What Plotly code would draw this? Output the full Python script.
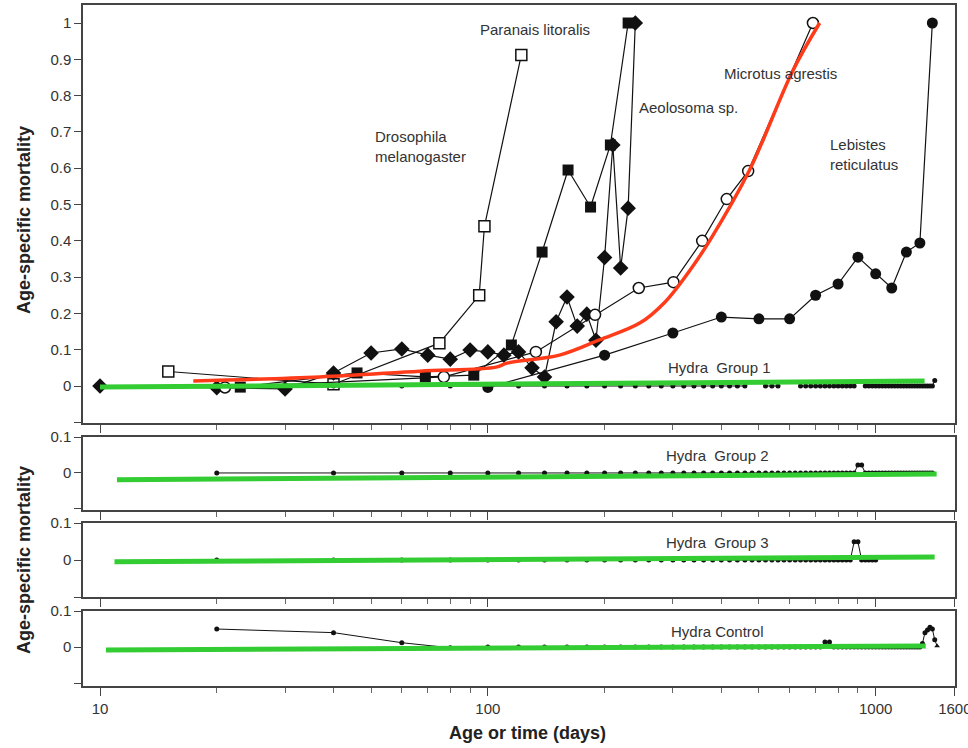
import math
import plotly.graph_objects as go

# ---------------- data ----------------
drosophila_x = [15, 40, 75, 95, 98, 122]
drosophila_y = [0.04, 0.005, 0.118, 0.25, 0.44, 0.912]

paranais_x = [23, 46, 69, 92, 115, 138, 161, 184, 207, 230]
paranais_y = [-0.003, 0.036, 0.025, 0.03, 0.113, 0.369, 0.595, 0.493, 0.664, 1.0]

aeolosoma_x = [10, 20, 30, 40, 50, 60, 70, 80, 90, 100, 110, 120, 130, 140,
               150, 160, 170, 180, 190, 200, 210, 220, 230, 240]
aeolosoma_y = [0.0, -0.005, -0.008, 0.036, 0.091, 0.102, 0.085, 0.074, 0.099, 0.094,
               0.085, 0.094, 0.05, 0.025, 0.177, 0.245, 0.165, 0.198, 0.126, 0.354,
               0.664, 0.325, 0.49, 1.0]

microtus_x = [21, 77, 133, 189, 245, 301, 357, 413, 469, 689]
microtus_y = [-0.004, 0.025, 0.094, 0.196, 0.27, 0.286, 0.4, 0.515, 0.592, 1.0]

lebistes_x = [100, 200, 300, 400, 500, 600, 700, 800, 900, 1000, 1100, 1200, 1300, 1400]
lebistes_y = [-0.004, 0.085, 0.146, 0.19, 0.185, 0.185, 0.25, 0.281, 0.355, 0.309,
              0.27, 0.369, 0.394, 1.0]

red_fit_x = [17.4, 36.9, 66.8, 105, 112, 153, 194, 247, 286, 332, 374, 473, 611, 717]
red_fit_y = [0.014, 0.025, 0.041, 0.052, 0.063, 0.085, 0.127, 0.174, 0.231, 0.319, 0.402,
             0.595, 0.868, 1.0]

hydra_days = [20, 40, 60, 80, 100, 120, 140, 160, 180, 200,
              220, 240, 260, 280, 300, 320, 340, 360, 380, 400,
              420, 440, 460, 480, 500, 520, 540, 560, 580, 600,
              620, 640, 660, 680, 700, 720, 740, 760, 780, 800,
              820, 840, 860, 880, 900, 920, 940, 960, 980, 1000,
              1020, 1040, 1060, 1080, 1100, 1120, 1140, 1160, 1180, 1200,
              1220, 1240, 1260, 1280, 1300, 1320, 1340, 1360, 1380, 1400,
              1420, 1440, 1460]
N = None
hydra_g1 = [0, 0, 0, 0, 0, 0, 0, 0, 0, 0,
            0, 0, 0, 0, 0, 0, 0, 0, 0, 0,
            0, 0, 0, N, N, 0, 0, 0, N, N,
            N, 0, 0, 0, 0, 0, 0, 0, 0, 0,
            0, 0, 0, 0, N, N, 0, 0, 0, 0,
            0, 0, 0, 0, 0, 0, 0, 0, 0, 0,
            0, 0, 0, 0, 0, 0, 0, 0, 0, 0,
            0.015, N, N]
hydra_g2 = [0, 0, 0, 0, 0, 0, 0, 0, 0, 0,
            0, 0, 0, 0, 0, 0, 0, 0, 0, 0,
            0, 0, 0, 0, 0, 0, 0, 0, 0, 0,
            0, 0, 0, 0, 0, 0, 0, 0, 0, 0,
            0, 0, 0, 0, 0.022, 0.022, 0, 0, 0, 0,
            0, 0, 0, 0, 0, 0, 0, 0, 0, 0,
            0, 0, 0, 0, 0, 0, 0, 0, 0, 0,
            N, N, N]
hydra_g3 = [0, 0, 0, 0, 0, 0, 0, 0, 0, 0,
            0, 0, 0, 0, 0, 0, 0, 0, 0, 0,
            0, 0, 0, 0, 0, 0, 0, 0, 0, 0,
            0, 0, 0, 0, 0, 0, 0, 0, 0, 0,
            0, 0, 0, 0.049, 0.049, 0, 0, 0, 0, 0,
            N, N, N, N, N, N, N, N, N, N,
            N, N, N, N, N, N, N, N, N, N,
            N, N, N]
hydra_ctrl = [0.05, 0.04, 0.012, -0.002, 0, 0, 0, 0, 0, 0,
              0, 0, 0, 0, 0, 0, 0, 0, 0, 0,
              0, 0, 0, 0, 0, 0, 0, 0, 0, 0,
              0, 0, 0, 0, 0, 0, 0.014, 0.014, 0, 0,
              0, 0, 0, 0, 0, 0, 0, 0, 0, 0,
              0, 0, 0, 0, 0, 0, 0, 0, 0, 0,
              0, 0, 0, 0, 0, 0.01, 0.04, 0.047, 0.055, 0.05,
              0.02, 0.003, N]

green_fit_x = [[10, 1337], [11.06, 1436], [10.9, 1419], [10.36, 1346]]
green_fit_y = [[-0.003, 0.014], [-0.019, -0.003], [-0.005, 0.008], [-0.008, 0.003]]

x_major = [10, 100, 1000, 1600]
x_minor = [20, 30, 40, 50, 60, 70, 80, 90, 200, 300, 400, 500, 600, 700, 800, 900]
top_ticks = [-0.1, 0, 0.1, 0.2, 0.3, 0.4, 0.5, 0.6, 0.7, 0.8, 0.9, 1.0]
top_ticktext = ["", "0", "0.1", "0.2", "0.3", "0.4", "0.5", "0.6", "0.7", "0.8", "0.9", "1"]
low_ticks = [-0.1, 0, 0.1]
low_ticktext = ["", "0", "0.1"]

# ---------------- figure ----------------
W, H = 968, 748
ML, MR, MT, MB = 83, 13, 5, 62
PW, PH = W - ML - MR, H - MT - MB


def px(xpix):
    return (xpix - ML) / PW


def py(ypix):
    return (H - MB - ypix) / PH


fig = go.Figure()
BLACK = "#111111"
LW = 1.2

fig.add_trace(go.Scatter(x=drosophila_x, y=drosophila_y, mode="lines+markers",
                         line=dict(color=BLACK, width=LW),
                         marker=dict(symbol="square", size=11, color="white",
                                     line=dict(color=BLACK, width=1.5)),
                         xaxis="x", yaxis="y", showlegend=False))
fig.add_trace(go.Scatter(x=paranais_x, y=paranais_y, mode="lines+markers",
                         line=dict(color=BLACK, width=LW),
                         marker=dict(symbol="square", size=11, color=BLACK),
                         xaxis="x", yaxis="y", showlegend=False))
fig.add_trace(go.Scatter(x=aeolosoma_x, y=aeolosoma_y, mode="lines+markers",
                         line=dict(color=BLACK, width=LW),
                         marker=dict(symbol="diamond", size=12, color=BLACK),
                         xaxis="x", yaxis="y", showlegend=False))
fig.add_trace(go.Scatter(x=lebistes_x, y=lebistes_y, mode="lines+markers",
                         line=dict(color=BLACK, width=LW),
                         marker=dict(symbol="circle", size=11, color=BLACK),
                         xaxis="x", yaxis="y", showlegend=False))
fig.add_trace(go.Scatter(x=microtus_x, y=microtus_y, mode="lines+markers",
                         line=dict(color=BLACK, width=LW),
                         marker=dict(symbol="circle", size=11, color="white",
                                     line=dict(color=BLACK, width=1.5)),
                         xaxis="x", yaxis="y", showlegend=False))

hydra_sets = [hydra_g1, hydra_g2, hydra_g3, hydra_ctrl]
axes = [("x", "y"), ("x2", "y2"), ("x3", "y3"), ("x4", "y4")]
for k, (ys, (xa, ya)) in enumerate(zip(hydra_sets, axes)):
    symbols = ["triangle-up" if (k == 3 and i == 71) else "circle" for i in range(len(ys))]
    fig.add_trace(go.Scatter(x=hydra_days, y=ys, mode="lines+markers",
                             line=dict(color=BLACK, width=1),
                             marker=dict(symbol=symbols, size=5, color=BLACK),
                             connectgaps=False,
                             xaxis=xa, yaxis=ya, showlegend=False))

fig.add_trace(go.Scatter(x=red_fit_x, y=red_fit_y, mode="lines",
                         line=dict(color="#ff3b1a", width=3.5, shape="spline", smoothing=1.0),
                         xaxis="x", yaxis="y", showlegend=False))

for (gx, gy), (xa, ya) in zip(zip(green_fit_x, green_fit_y), axes):
    fig.add_trace(go.Scatter(x=gx, y=gy, mode="lines",
                             line=dict(color="#33cc33", width=5),
                             xaxis=xa, yaxis=ya, showlegend=False))

TICKFONT = dict(family="Liberation Sans, Arial, sans-serif", size=15, color="#333333")
AXCOL = "#444444"


def xaxis_cfg(show_labels, anchor):
    return dict(type="log", range=[math.log10(9.04), math.log10(1600) + 0.0004],
                showline=True, linecolor=AXCOL, linewidth=1.5, mirror=True,
                ticks="outside", ticklen=8, tickwidth=1.3, tickcolor=AXCOL,
                tickmode="array", tickvals=x_major, ticktext=[str(v) for v in x_major],
                minor=dict(tickmode="array", tickvals=x_minor, ticks="outside",
                           ticklen=5, tickwidth=1, tickcolor="#666666"),
                showticklabels=show_labels, tickfont=TICKFONT, automargin=False,
                ticklabeloverflow="allow",
                showgrid=False, zeroline=False, anchor=anchor, domain=[0, 1])


def yaxis_cfg(domain, rng, tv, tt, anchor):
    return dict(domain=domain, range=rng, tickmode="array", tickvals=tv, ticktext=tt,
                showline=True, linecolor=AXCOL, linewidth=1.5, mirror=True,
                ticks="outside", ticklen=7, tickwidth=1.3, tickcolor=AXCOL,
                tickfont=TICKFONT, showgrid=False, zeroline=False, anchor=anchor,
                automargin=False)


fig.update_layout(
    width=W, height=H,
    margin=dict(l=ML, r=MR, t=MT, b=MB, pad=0),
    paper_bgcolor="white", plot_bgcolor="white",
    xaxis=xaxis_cfg(False, "y"),
    xaxis2=xaxis_cfg(False, "y2"),
    xaxis3=xaxis_cfg(False, "y3"),
    xaxis4=xaxis_cfg(True, "y4"),
    yaxis=yaxis_cfg([py(423), py(5)], [-0.1019, 1.0496], top_ticks, top_ticktext, "x"),
    yaxis2=yaxis_cfg([py(510), py(437)], [-0.103, 0.1], low_ticks, low_ticktext, "x2"),
    yaxis3=yaxis_cfg([py(597), py(523)], [-0.1, 0.1], low_ticks, low_ticktext, "x3"),
    yaxis4=yaxis_cfg([0, py(611)], [-0.108, 0.1], low_ticks, low_ticktext, "x4"),
)

LBL = dict(family="Liberation Sans, Arial, sans-serif", size=15, color="#333333")
labels = [
    ("Paranais litoralis", 478, 29),
    ("Drosophila<br>melanogaster", 373, 147),
    ("Aeolosoma sp.", 637, 107),
    ("Microtus agrestis", 722, 73),
    ("Lebistes<br>reticulatus", 828, 154),
    ("Hydra\u00a0 Group 1", 666, 367),
    ("Hydra\u00a0 Group 2", 664, 455),
    ("Hydra\u00a0 Group 3", 664, 542),
    ("Hydra Control", 669, 631),
]
for txt, lx, ly in labels:
    fig.add_annotation(text=txt, xref="paper", yref="paper", x=px(lx), y=py(ly),
                       xanchor="left", yanchor="middle", align="left",
                       showarrow=False, font=LBL)

TITLEFONT = dict(family="Liberation Sans, Arial, sans-serif", size=18, color="#222222")
fig.add_annotation(text="<b>Age-specific mortality</b>", xref="paper", yref="paper",
                   x=px(24), y=py(220), textangle=-90, showarrow=False,
                   xanchor="center", yanchor="middle", font=TITLEFONT)
fig.add_annotation(text="<b>Age-specific mortality</b>", xref="paper", yref="paper",
                   x=px(24), y=py(560), textangle=-90, showarrow=False,
                   xanchor="center", yanchor="middle", font=TITLEFONT)
fig.add_annotation(text="<b>Age or time (days)</b>", xref="paper", yref="paper",
                   x=px(527), y=py(733), showarrow=False,
                   xanchor="center", yanchor="middle", font=TITLEFONT)

fig.write_html("out.html", config={"displayModeBar": False},
               post_script="document.body.style.margin='0';document.body.style.overflow='hidden';")
